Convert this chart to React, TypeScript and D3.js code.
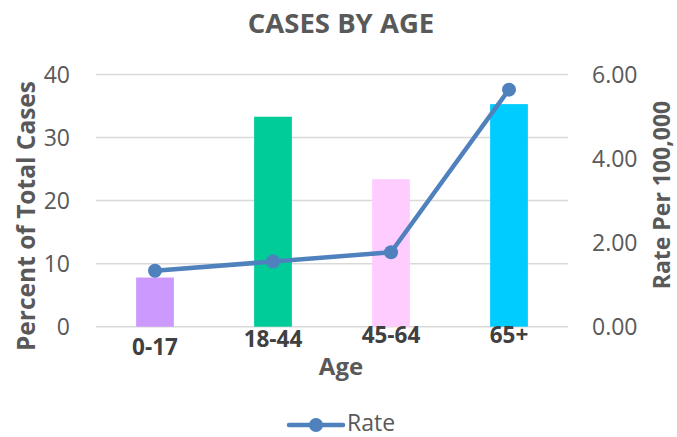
import { useEffect, useRef } from 'react';
import * as d3 from 'd3';

const ageGroups = ['0-17', '18-44', '45-64', '65+'];
const percentOfCases = [7.8, 33.3, 23.4, 35.3];
const ratePer100k = [1.33, 1.55, 1.77, 5.64];
const barColors = ['#cc99ff', '#00cc99', '#ffccff', '#00ccff'];
const leftTicks = [0, 10, 20, 30, 40];
const rightTicks = [0, 2, 4, 6];

const App = () => {
  const svgRef = useRef<SVGSVGElement>(null);

  useEffect(() => {
    const width = 677;
    const height = 437;
    const margin = { top: 74.5, right: 109, bottom: 110.3, left: 96 };
    const font = "'Open Sans', 'Liberation Sans', sans-serif";
    const grey = '#595959';
    const blue = '#4f81bd';

    const svg = d3.select(svgRef.current)
      .attr('width', width)
      .attr('height', height)
      .style('position', 'absolute')
      .style('top', 0)
      .style('left', 0)
      .style('font-family', font);

    svg.selectAll('*').remove();

    const x = d3.scaleBand()
      .domain(ageGroups)
      .range([margin.left, width - margin.right])
      .paddingInner(0.68)
      .paddingOuter(0.34);

    const yLeft = d3.scaleLinear()
      .domain([0, 40])
      .range([height - margin.bottom, margin.top]);

    const yRight = d3.scaleLinear()
      .domain([0, 6])
      .range([height - margin.bottom, margin.top]);

    const cx = (i: number) => (x(ageGroups[i]) as number) + x.bandwidth() / 2;

    // gridlines
    svg.append('g')
      .selectAll('line')
      .data(leftTicks)
      .enter().append('line')
      .attr('x1', margin.left)
      .attr('x2', width - margin.right)
      .attr('y1', d => yLeft(d))
      .attr('y2', d => yLeft(d))
      .attr('stroke', '#d9d9d9')
      .attr('stroke-width', 1.5);

    // left ticks
    svg.append('g')
      .selectAll('text')
      .data(leftTicks)
      .enter().append('text')
      .attr('x', 70)
      .attr('y', d => yLeft(d) + 8)
      .attr('text-anchor', 'end')
      .attr('font-size', 23)
      .attr('fill', grey)
      .text(d => d);

    // right ticks
    svg.append('g')
      .selectAll('text')
      .data(rightTicks)
      .enter().append('text')
      .attr('x', 592)
      .attr('y', d => yRight(d) + 8)
      .attr('font-size', 23)
      .attr('fill', grey)
      .text(d => d.toFixed(2));

    // bars
    svg.append('g')
      .selectAll('rect')
      .data(percentOfCases)
      .enter().append('rect')
      .attr('x', (_, i) => x(ageGroups[i]) as number)
      .attr('width', x.bandwidth())
      .attr('y', d => yLeft(d))
      .attr('height', d => yLeft(0) - yLeft(d))
      .attr('fill', (_, i) => barColors[i]);

    // rate line
    const line = d3.line<number>()
      .x((_, i) => cx(i))
      .y(d => yRight(d));

    svg.append('path')
      .datum(ratePer100k)
      .attr('fill', 'none')
      .attr('stroke', blue)
      .attr('stroke-width', 4.5)
      .attr('stroke-linejoin', 'round')
      .attr('d', line);

    svg.append('g')
      .selectAll('circle')
      .data(ratePer100k)
      .enter().append('circle')
      .attr('cx', (_, i) => cx(i))
      .attr('cy', d => yRight(d))
      .attr('r', 7)
      .attr('fill', blue);

    // category labels (slightly staggered like the source)
    const labelY = [355, 347, 343, 343];
    svg.append('g')
      .selectAll('text')
      .data(ageGroups)
      .enter().append('text')
      .attr('x', (_, i) => cx(i))
      .attr('y', (_, i) => labelY[i])
      .attr('text-anchor', 'middle')
      .attr('font-size', 22.5)
      .attr('font-weight', 'bold')
      .attr('fill', '#404040')
      .text(d => d);

    // title
    svg.append('text')
      .attr('x', 341)
      .attr('y', 33)
      .attr('text-anchor', 'middle')
      .attr('font-size', 27.5)
      .attr('font-weight', 'bold')
      .attr('fill', grey)
      .text('CASES BY AGE');

    // axis titles
    svg.append('text')
      .attr('x', 341)
      .attr('y', 375)
      .attr('text-anchor', 'middle')
      .attr('font-size', 24)
      .attr('font-weight', 'bold')
      .attr('fill', grey)
      .text('Age');

    svg.append('text')
      .attr('transform', 'translate(35, 216) rotate(-90)')
      .attr('text-anchor', 'middle')
      .attr('font-size', 24.5)
      .attr('font-weight', 'bold')
      .attr('fill', grey)
      .text('Percent of Total Cases');

    svg.append('text')
      .attr('transform', 'translate(670, 195) rotate(-90)')
      .attr('text-anchor', 'middle')
      .attr('font-size', 23)
      .attr('font-weight', 'bold')
      .attr('fill', grey)
      .text('Rate Per 100,000');

    // legend
    const legend = svg.append('g');
    legend.append('line')
      .attr('x1', 289)
      .attr('x2', 343)
      .attr('y1', 425)
      .attr('y2', 425)
      .attr('stroke', blue)
      .attr('stroke-width', 4.5)
      .attr('stroke-linecap', 'round');
    legend.append('circle')
      .attr('cx', 316)
      .attr('cy', 425)
      .attr('r', 7)
      .attr('fill', blue);
    legend.append('text')
      .attr('x', 347)
      .attr('y', 431)
      .attr('font-size', 23)
      .attr('fill', grey)
      .text('Rate');
  }, []);

  return (
    <div>
      <svg ref={svgRef} />
    </div>
  );
};

export default App;
